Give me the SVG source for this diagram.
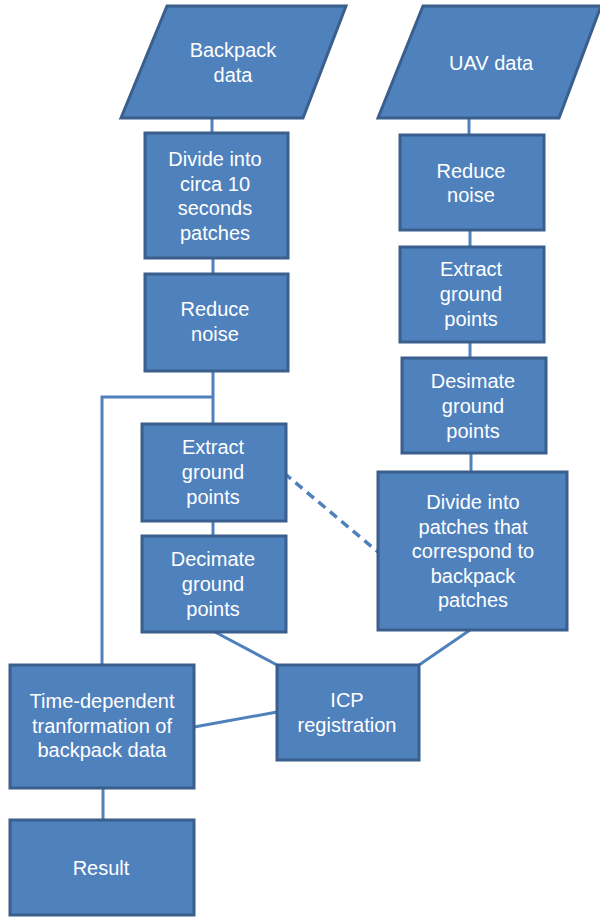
<svg xmlns="http://www.w3.org/2000/svg" width="600" height="917" viewBox="0 0 600 917">
<style>
.n{fill:#4F81BD;stroke:#3A5F8C;stroke-width:3}
.t{fill:#fff;font-family:"Liberation Sans",Arial,sans-serif;font-size:20px;text-anchor:middle}
.c{fill:none;stroke:#4F81BD;stroke-width:3}
.d{fill:none;stroke:#4F81BD;stroke-width:3.5;stroke-dasharray:9 6}
</style>
<rect width="600" height="917" fill="#fff"/>
<g id="connectors">
<path class="c" d="M212 118V133M213 258V274M213 371V424M213 521V537M213 397H102V665M103 788V820"/>
<path class="c" d="M469 118V135M470 230V247M470 342V358M471 453V472"/>
<path class="c" d="M215 632L277 665M419 665L470 630M194 727L277 712"/>
<path class="d" d="M284 473L378 552"/>
</g>
<g id="backpack-data"><polygon class="n" points="167,6 346,6 303,118 121,118"/><text class="t" x="233" y="57">Backpack</text><text class="t" x="233" y="82">data</text></g>
<g id="uav-data"><polygon class="n" points="423,6 601,6 559,118 378,118"/><text class="t" x="491" y="70">UAV data</text></g>
<g id="divide-10s"><rect class="n" x="145" y="133" width="143" height="125"/><text class="t" x="215" y="166">Divide into</text><text class="t" x="215" y="191">circa 10</text><text class="t" x="215" y="215">seconds</text><text class="t" x="215" y="240">patches</text></g>
<g id="reduce-noise-bp"><rect class="n" x="145" y="274" width="143" height="97"/><text class="t" x="215" y="316">Reduce</text><text class="t" x="215" y="341">noise</text></g>
<g id="extract-bp"><rect class="n" x="142" y="424" width="144" height="97"/><text class="t" x="213" y="454">Extract</text><text class="t" x="213" y="479">ground</text><text class="t" x="213" y="504">points</text></g>
<g id="decimate-bp"><rect class="n" x="142" y="536" width="144" height="96"/><text class="t" x="213" y="566">Decimate</text><text class="t" x="213" y="591">ground</text><text class="t" x="213" y="616">points</text></g>
<g id="reduce-noise-uav"><rect class="n" x="400" y="135" width="144" height="95"/><text class="t" x="471" y="178">Reduce</text><text class="t" x="471" y="202">noise</text></g>
<g id="extract-uav"><rect class="n" x="400" y="247" width="144" height="95"/><text class="t" x="471" y="276">Extract</text><text class="t" x="471" y="301">ground</text><text class="t" x="471" y="326">points</text></g>
<g id="desimate-uav"><rect class="n" x="402" y="358" width="144" height="95"/><text class="t" x="473" y="388">Desimate</text><text class="t" x="473" y="413">ground</text><text class="t" x="473" y="438">points</text></g>
<g id="divide-patches"><rect class="n" x="378" y="472" width="189" height="158"/><text class="t" x="473" y="509">Divide into</text><text class="t" x="473" y="534">patches that</text><text class="t" x="473" y="558">correspond to</text><text class="t" x="473" y="583">backpack</text><text class="t" x="473" y="607">patches</text></g>
<g id="icp"><rect class="n" x="277" y="665" width="142" height="95"/><text class="t" x="347" y="707">ICP</text><text class="t" x="347" y="732">registration</text></g>
<g id="time-dependent"><rect class="n" x="10" y="665" width="184" height="123"/><text class="t" x="102" y="708">Time-dependent</text><text class="t" x="102" y="733">tranformation of</text><text class="t" x="102" y="757">backpack data</text></g>
<g id="result"><rect class="n" x="10" y="820" width="184" height="95"/><text class="t" x="101" y="875">Result</text></g>
</svg>
